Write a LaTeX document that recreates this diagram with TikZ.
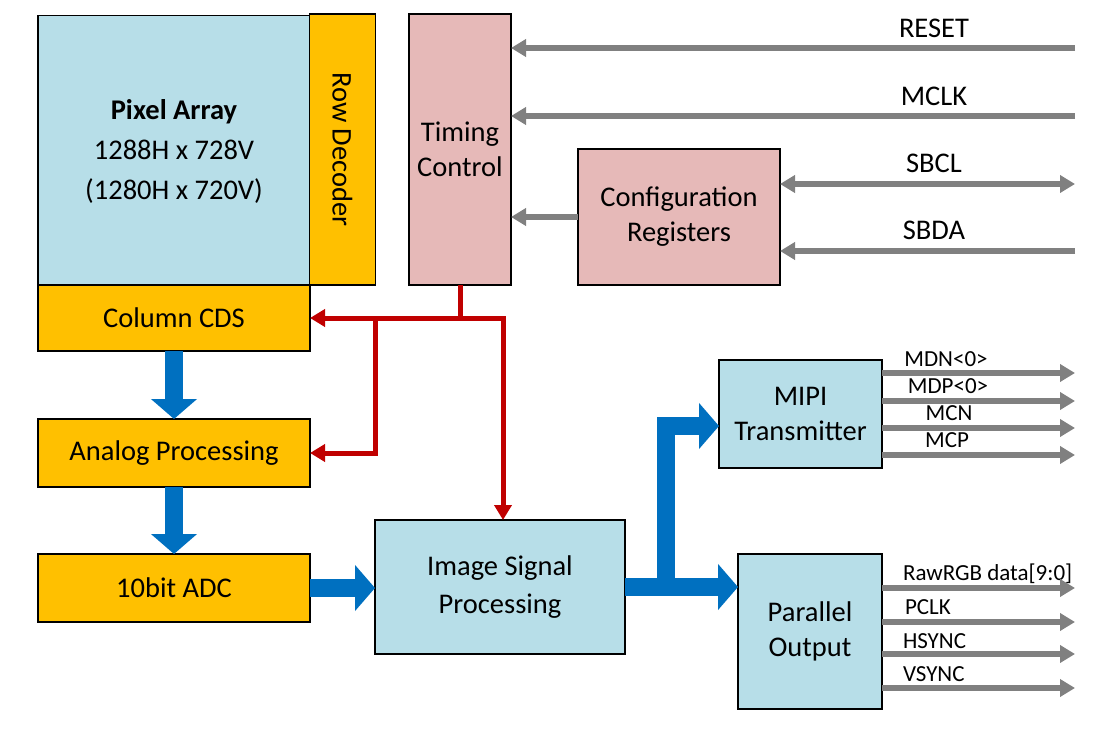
\documentclass[tikz,border=0pt]{standalone}
\usepackage{fontspec}
\setmainfont{Carlito}
\usetikzlibrary{arrows.meta}
\definecolor{pixblue}{HTML}{B7DEE8}
\definecolor{blkorange}{HTML}{FFC000}
\definecolor{blkpink}{HTML}{E6B9B8}
\definecolor{flowblue}{HTML}{0070C0}
\definecolor{ctlred}{HTML}{C00000}
\definecolor{siggray}{HTML}{808080}
\begin{document}
\begin{tikzpicture}[
    x=1pt, y=-1pt,
    every node/.style={inner sep=0pt, outer sep=0pt, align=center, font=\fontsize{28.5}{35}\selectfont},
    blk/.style={draw, line width=1.5pt, rectangle},
    bluebox/.style={blk, fill=pixblue},
    orangebox/.style={blk, fill=blkorange},
    pinkbox/.style={blk, fill=blkpink},
    outlbl/.style={font=\fontsize{23}{27}\selectfont},
    dataflow/.style={draw=flowblue, line width=18pt, -{Triangle[width=45pt,length=20pt]}},
    ctl/.style={draw=ctlred, line width=5pt},
    ctlarrow/.style={ctl, -{Triangle[width=17pt,length=15pt]}},
    sig/.style={draw=siggray, line width=5.5pt},
    sigin/.style={sig, -{Triangle[width=17pt,length=15pt]}},
    sigboth/.style={sig, {Triangle[width=17pt,length=15pt]}-{Triangle[width=17pt,length=15pt]}},
]
  \useasboundingbox (0,0) rectangle (1113,735);

  \node [bluebox, minimum width=272, minimum height=271, font=\fontsize{28.5}{40}\selectfont]
        (pix)    at (174,151) {\textbf{Pixel Array}\\1288H x 728V\\(1280H x 720V)};
  \node [orangebox, rotate=-90, minimum width=271, minimum height=66]
        (rowdec) at (342.5,149.5) {Row Decoder};
  \node [orangebox, minimum width=272, minimum height=66]  (cds)    at (174,318)   {Column CDS};
  \node [orangebox, minimum width=272, minimum height=68]  (analog) at (174,453)   {Analog Processing};
  \node [orangebox, minimum width=272, minimum height=68]  (adc)    at (174,588)   {10bit ADC};
  \node [pinkbox,   minimum width=102, minimum height=271] (timing) at (460,149.5) {Timing\\Control};
  \node [pinkbox,   minimum width=202, minimum height=136] (config) at (679,217)   {Configuration\\Registers};
  \node [bluebox,   minimum width=250, minimum height=134, font=\fontsize{28.5}{38}\selectfont]
        (isp)    at (500,587)   {Image Signal\\Processing};
  \node [bluebox,   minimum width=163, minimum height=108] (mipi)   at (800.5,414) {MIPI\\Transmitter};
  \node [bluebox,   minimum width=144, minimum height=155] (par)    at (810,631.5) {Parallel\\Output};

  \coordinate (resetin) at (1075,48);
  \coordinate (mclkin)  at (1075,116);
  \coordinate (sbclin)  at (1075,184);
  \coordinate (sbdain)  at (1075,251);
  \node (resetlbl) at (934,28)  {RESET};
  \node (mclklbl)  at (934,96)  {MCLK};
  \node (sbcllbl)  at (934,163) {SBCL};
  \node (sbdalbl)  at (934,230) {SBDA};
  \draw [sigin]   (resetin) -- (resetin -| timing.east);
  \draw [sigin]   (mclkin)  -- (mclkin -| timing.east);
  \draw [sigboth] (sbclin -| config.east) -- (sbclin);
  \draw [sigin]   (sbdain)  -- (sbdain -| config.east);
  \draw [sigin]   (config.west) -- (config.west -| timing.east);

  \coordinate (tc) at (460,318);
  \coordinate (tl) at (375,318);
  \coordinate (tr) at (503,318);
  \draw [ctl]      (timing.south) -- (tc);
  \draw [ctlarrow] (tr) -- (cds.east);
  \draw [ctlarrow] (tl) |- (analog.east);
  \draw [ctlarrow] (tc) -- (tr) -- (tr |- isp.north);

  \draw [dataflow] (cds) -- (analog);
  \draw [dataflow] (analog) -- (adc);
  \draw [dataflow] (adc.east) -- (adc.east -| isp.west);
  \draw [dataflow] (isp.east) -- (isp.east -| par.west);
  \coordinate (br) at (666,587);
  \draw [dataflow] (br) |- ([yshift=-12pt]mipi.west);

  \coordinate (mdn) at (1075,373);
  \coordinate (mdp) at (1075,401);
  \coordinate (mcn) at (1075,428);
  \coordinate (mcp) at (1075,455);
  \node [outlbl] (mdnlbl) at (946,359) {MDN<0>};
  \node [outlbl] (mdplbl) at (948,386) {MDP<0>};
  \node [outlbl] (mcnlbl) at (949,413) {MCN};
  \node [outlbl] (mcplbl) at (947,440) {MCP};
  \draw [sigin] (mdn -| mipi.east) -- (mdn);
  \draw [sigin] (mdp -| mipi.east) -- (mdp);
  \draw [sigin] (mcn -| mipi.east) -- (mcn);
  \draw [sigin] (mcp -| mipi.east) -- (mcp);

  \coordinate (rgb)   at (1075,588);
  \coordinate (pclk)  at (1075,622);
  \coordinate (hsync) at (1075,654);
  \coordinate (vsync) at (1075,688);
  \node [outlbl, anchor=west] (rgblbl)   at (903,574) {RawRGB data[9:0]};
  \node [outlbl, anchor=west] (pclklbl)  at (905,607) {PCLK};
  \node [outlbl, anchor=west] (hsynclbl) at (903,641) {HSYNC};
  \node [outlbl, anchor=west] (vsynclbl) at (903,674) {VSYNC};
  \draw [sigin] (rgb -| par.east)   -- (rgb);
  \draw [sigin] (pclk -| par.east)  -- (pclk);
  \draw [sigin] (hsync -| par.east) -- (hsync);
  \draw [sigin] (vsync -| par.east) -- (vsync);
\end{tikzpicture}
\end{document}
